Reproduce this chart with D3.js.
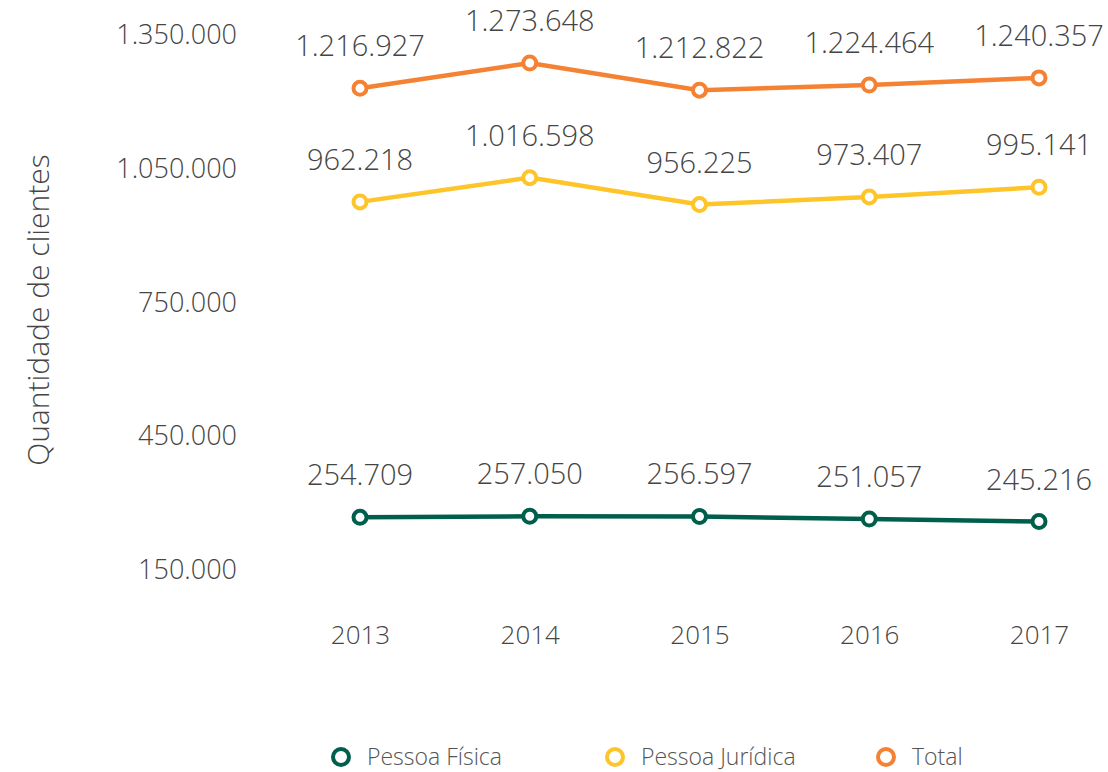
<!DOCTYPE html>
<html>
<head>
<meta charset="utf-8">
<script src="https://cdn.jsdelivr.net/npm/d3@7"></script>
<style>
  html, body { margin: 0; padding: 0; background: #fff; }
  svg text { font-family: "Open Sans", "Lato", sans-serif; font-weight: 300; }
</style>
</head>
<body>
<svg id="chart" width="1108" height="772"></svg>
<script>
// Clientes por ano
const years = ["2013", "2014", "2015", "2016", "2017"];
const pessoaFisica = [254709, 257050, 256597, 251057, 245216];
const pessoaJuridica = [962218, 1016598, 956225, 973407, 995141];
const total = [1216927, 1273648, 1212822, 1224464, 1240357];
const yTicks = [150000, 450000, 750000, 1050000, 1350000];
const seriesNames = ["Pessoa Física", "Pessoa Jurídica", "Total"];
const seriesColors = ["#005f4b", "#fdc52a", "#f58232"];

const series = [
  { name: seriesNames[0], values: pessoaFisica, color: seriesColors[0] },
  { name: seriesNames[1], values: pessoaJuridica, color: seriesColors[1] },
  { name: seriesNames[2], values: total, color: seriesColors[2] }
];

const svg = d3.select("#chart");
const fmt = d3.formatLocale({ decimal: ",", thousands: ".", grouping: [3], currency: ["R$", ""] }).format(",d");

const x = d3.scalePoint().domain(years).range([360, 1039]);
const y = d3.scaleLinear().domain([150000, 1350000]).range([564, 29]);

// Eixo Y (somente rótulos)
const yAxis = d3.axisLeft(y).tickValues(yTicks).tickFormat(fmt).tickSize(0).tickPadding(0);
const gy = svg.append("g").attr("transform", "translate(237,6)").call(yAxis);
gy.select(".domain").remove();
gy.selectAll("text")
  .attr("fill", "#454545")
  .style("font-size", "27px")
  .style("font-family", "\"Open Sans\", sans-serif")
  .style("font-weight", 300);

// Eixo X (somente rótulos)
const xAxis = d3.axisBottom(x).tickSize(0).tickPadding(0);
const gx = svg.append("g").attr("transform", "translate(0,626)").call(xAxis);
gx.select(".domain").remove();
gx.selectAll("text")
  .attr("fill", "#454545")
  .style("font-size", "26px")
  .style("font-family", "\"Open Sans\", sans-serif")
  .style("font-weight", 300);

// Título do eixo Y
svg.append("text")
  .attr("transform", "translate(49,310) rotate(-90)")
  .attr("text-anchor", "middle")
  .attr("fill", "#454545")
  .style("font-size", "30px")
  .text("Quantidade de clientes");

const line = d3.line()
  .x((d, i) => x(years[i]))
  .y(d => y(d));

series.forEach(s => {
  const g = svg.append("g");
  g.append("path")
    .datum(s.values)
    .attr("d", line)
    .attr("fill", "none")
    .attr("stroke", s.color)
    .attr("stroke-width", 4.5);
  g.selectAll("circle")
    .data(s.values)
    .join("circle")
    .attr("cx", (d, i) => x(years[i]))
    .attr("cy", d => y(d))
    .attr("r", 6.5)
    .attr("fill", "#fff")
    .attr("stroke", s.color)
    .attr("stroke-width", 4);
  g.selectAll("text.val")
    .data(s.values)
    .join("text")
    .attr("class", "val")
    .attr("x", (d, i) => x(years[i]))
    .attr("y", d => y(d) - 32)
    .attr("text-anchor", "middle")
    .attr("fill", "#454545")
    .style("font-size", "29px")
    .text(d => fmt(d));
});

// Legenda
const legendX = [341, 615, 886];
const legend = svg.append("g");
series.forEach((s, i) => {
  legend.append("circle")
    .attr("cx", legendX[i])
    .attr("cy", 757)
    .attr("r", 8)
    .attr("fill", "#fff")
    .attr("stroke", s.color)
    .attr("stroke-width", 4);
  legend.append("text")
    .attr("x", legendX[i] + 26)
    .attr("y", 765)
    .attr("fill", "#555")
    .style("font-size", "23px")
    .text(s.name);
});
</script>
</body>
</html>
